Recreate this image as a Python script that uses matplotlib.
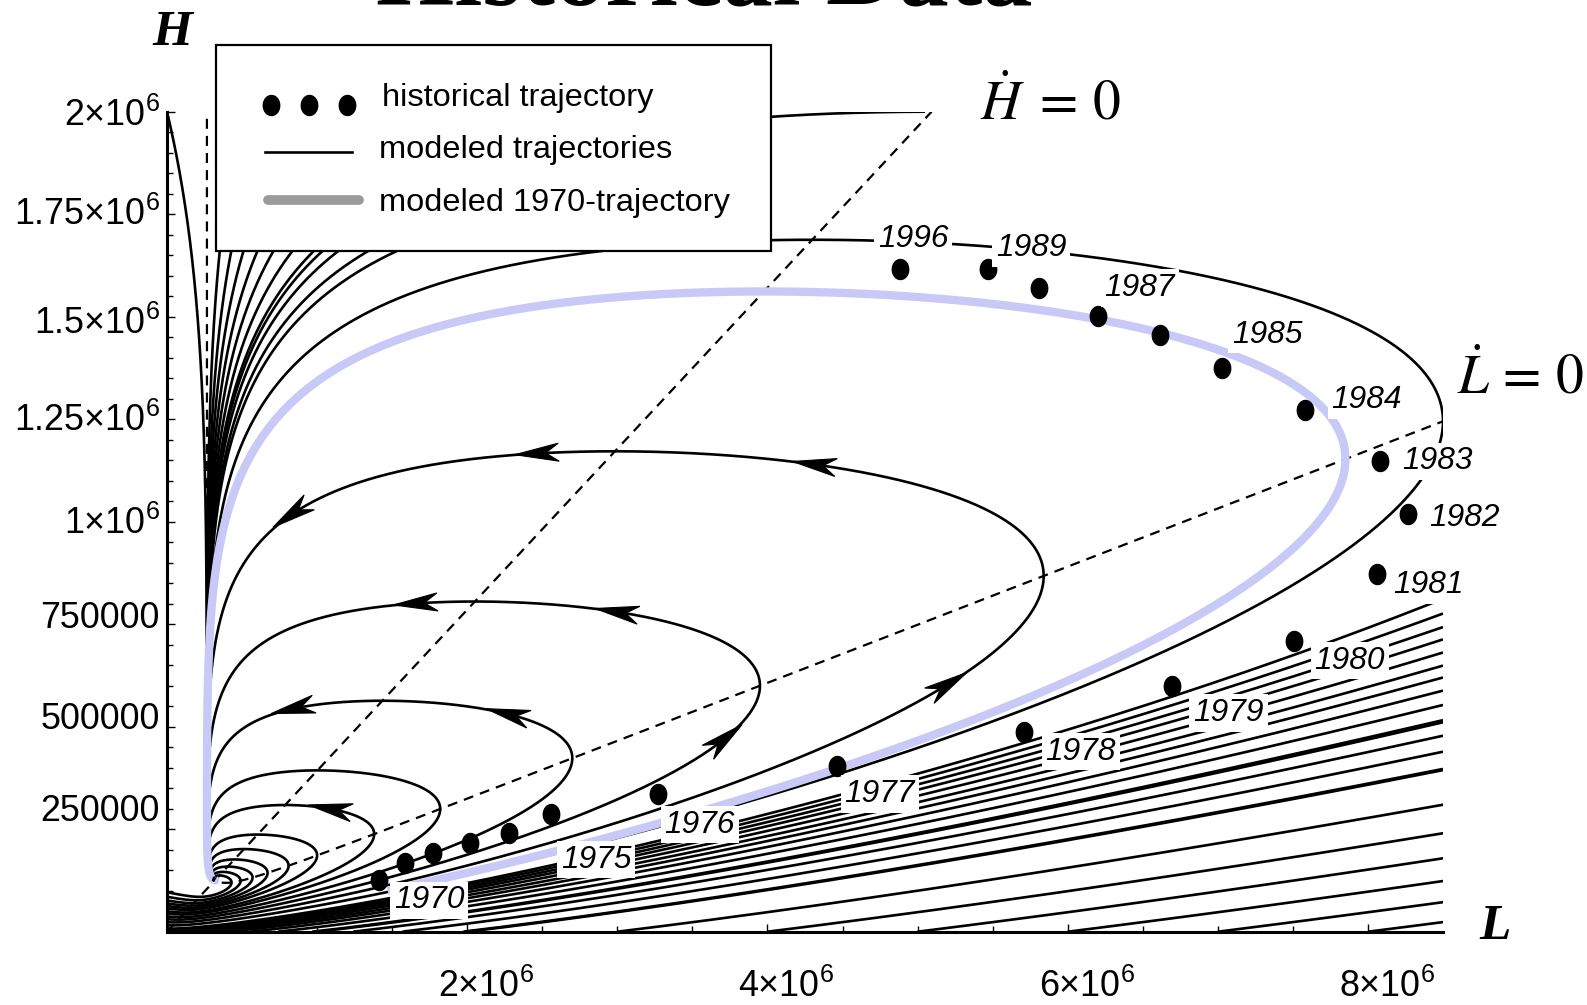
import numpy as np
import matplotlib
matplotlib.use("Agg")
import matplotlib.pyplot as plt
from matplotlib import font_manager as fm
from matplotlib.path import Path
from matplotlib.patches import Polygon, Rectangle
from matplotlib.lines import Line2D
from matplotlib.transforms import IdentityTransform

# ---------------- model parameters (light / heavy users) ----------------
tau = 4.97e4       # constant inflow of new light users
s_init = 0.505     # initiation rate
q_dep = 7.0        # deterrence of heavy use
a_quit = 0.172     # quitting rate of light users
b_esc = 0.015      # escalation light -> heavy
g_quit = 0.0382    # quitting rate of heavy users

L_MAX = 8.5e6
H_MAX = 2.0e6

# ---------------- historical data ----------------
years = [1970, 1971, 1972, 1973, 1974, 1975, 1976, 1977, 1978, 1979, 1980,
         1981, 1982, 1983, 1984, 1985, 1986, 1987, 1988, 1989, 1996]
light_users = [1.415e6, 1.583e6, 1.772e6, 2.021e6, 2.278e6, 2.561e6, 3.268e6,
               4.461e6, 5.708e6, 6.698e6, 7.507e6, 8.059e6, 8.268e6, 8.079e6,
               7.580e6, 7.028e6, 6.617e6, 6.199e6, 5.808e6, 5.471e6, 4.885e6]
heavy_users = [0.125e6, 0.167e6, 0.191e6, 0.216e6, 0.241e6, 0.288e6, 0.337e6,
               0.404e6, 0.488e6, 0.599e6, 0.710e6, 0.873e6, 1.018e6, 1.147e6,
               1.273e6, 1.376e6, 1.455e6, 1.502e6, 1.571e6, 1.616e6, 1.616e6]
labelled_years = [1970, 1975, 1976, 1977, 1978, 1979, 1980, 1981, 1982,
                  1983, 1984, 1985, 1987, 1989, 1996]

# ---------------- trajectory seeds ----------------
axis_start_L = [1e6, 2e6, 3e6, 4e6, 5e6, 6e6, 7e6, 8e6]          # on H = 0, forward
edge_cross_H = [0.812e6, 0.776e6, 0.743e6, 0.713e6, 0.681e6, 0.649e6,
                0.620e6, 0.588e6, 0.553e6, 0.516e6, 0.478e6, 0.439e6,
                0.397e6]                                            # on L = L_MAX, backward
loop_turn_L = [8.5e6, 5.84e6, 3.95e6, 2.70e6, 1.82e6, 1.38e6, 1.0e6,
               0.81e6, 0.67e6, 0.57e6, 0.49e6, 0.43e6]              # on Ldot = 0
fan_cross_L = [0.357e6, 0.439e6, 0.526e6, 0.626e6, 0.741e6, 0.878e6,
               1.034e6, 1.214e6, 1.437e6, 1.653e6]                  # at H = fan_cross_H
fan_cross_H = 1.68e6
top_start_L = [0.0, 5.05e6]                                         # on H = H_MAX, forward

# modelled 1970 run: turning point, first and last state
turn_1970_L = 7.85e6
start_1970_L = 1.47e6
end_1970_H = 0.125e6

# arrow marks along the loops
arrow_L = [2.463e6, 4.318e6, 0.877e6, 5.195e6, 1.653e6, 3.0e6, 3.745e6,
           0.843e6, 2.26e6, 1.08e6]
arrow_H = [1.188e6, 1.151e6, 0.99e6, 0.607e6, 0.812e6, 0.792e6, 0.459e6,
           0.533e6, 0.52e6, 0.286e6]

x_major = [2e6, 4e6, 6e6, 8e6]
y_major = [250000, 500000, 750000, 1000000, 1250000, 1500000, 1750000, 2000000]


# ---------------- fonts ----------------
def has_font(name):
    try:
        fm.findfont(fm.FontProperties(family=name), fallback_to_default=False)
        return True
    except Exception:
        return False


SANS = next((f for f in ["Liberation Sans Narrow", "Liberation Sans", "DejaVu Sans"]
             if has_font(f)), "DejaVu Sans")
SERIF = next((f for f in ["Liberation Serif", "DejaVu Serif"] if has_font(f)),
             "DejaVu Serif")
plt.rcParams["font.family"] = [SANS, "DejaVu Sans"]
plt.rcParams["mathtext.fontset"] = "custom"
plt.rcParams["mathtext.rm"] = SANS
plt.rcParams["mathtext.it"] = SANS + ":italic"

# ---------------- figure ----------------
W, HP, DPI = 1587, 1005, 100
fig = plt.figure(figsize=(W / DPI, HP / DPI), dpi=DPI, facecolor="white")
renderer = fig.canvas.get_renderer()


def fpos(x, y):
    return (x / W, 1 - y / HP)


def fit_size(sample, target_px, **props):
    prop = fm.FontProperties(size=20, **props)
    w, _, _ = renderer.get_text_width_height_descent(sample, prop, ismath=False)
    return 20 * target_px / w


AX_L, AX_R, AX_T, AX_B = 167, 1443, 111.7, 931.7
ax = fig.add_axes([AX_L / W, 1 - AX_B / HP, (AX_R - AX_L) / W, (AX_B - AX_T) / HP])
ax.set_xlim(0, L_MAX)
ax.set_ylim(0, H_MAX)
for side in ("top", "right"):
    ax.spines[side].set_visible(False)
for side in ("left", "bottom"):
    ax.spines[side].set_linewidth(2.2)
ax.set_xticks(x_major)
ax.set_xticks(np.arange(0.5e6, L_MAX, 0.5e6), minor=True)
ax.set_yticks(y_major)
ax.set_yticks(np.arange(50000, H_MAX, 50000), minor=True)
ax.tick_params(which="both", direction="in", labelbottom=False, labelleft=False,
               width=1.0, color="black")
ax.tick_params(which="major", length=6)
ax.tick_params(which="minor", length=4)


# ---------------- dynamics ----------------
def field(L, H):
    Ls = np.where(L > 1.0, L, 1.0)
    dL = tau + s_init * L * np.exp(-q_dep * H / Ls) - (a_quit + b_esc) * L
    dH = b_esc * L - g_quit * H
    return dL, dH


def integrate(L0, H0, t_end, dt=0.02):
    n = int(round(abs(t_end) / dt))
    h = dt if t_end > 0 else -dt
    L = np.array(L0, float)
    H = np.array(H0, float)
    outL = np.full((n + 1, L.size), np.nan)
    outH = np.full((n + 1, L.size), np.nan)
    outL[0], outH[0] = L, H
    alive = np.ones(L.size, bool)
    for i in range(n):
        k1 = field(L, H)
        k2 = field(L + 0.5 * h * k1[0], H + 0.5 * h * k1[1])
        k3 = field(L + 0.5 * h * k2[0], H + 0.5 * h * k2[1])
        k4 = field(L + h * k3[0], H + h * k3[1])
        Ln = L + h / 6 * (k1[0] + 2 * k2[0] + 2 * k3[0] + k4[0])
        Hn = H + h / 6 * (k1[1] + 2 * k2[1] + 2 * k3[1] + k4[1])
        alive &= (Ln > 0) & (Hn >= 0) & (Ln < 2e8) & (Hn < 1e8)
        L = np.where(alive, Ln, L)
        H = np.where(alive, Hn, H)
        outL[i + 1] = np.where(alive, Ln, np.nan)
        outH[i + 1] = np.where(alive, Hn, np.nan)
        if not alive.any():
            break
    return outL, outH


def trace(L0, H0, t_back, t_fwd):
    parts_L, parts_H = [], []
    if t_back > 0:
        bL, bH = integrate(L0, H0, -t_back)
        parts_L.append(bL[::-1])
        parts_H.append(bH[::-1])
    if t_fwd > 0:
        fL, fH = integrate(L0, H0, t_fwd)
        parts_L.append(fL[1:] if parts_L else fL)
        parts_H.append(fH[1:] if parts_H else fH)
    return np.vstack(parts_L), np.vstack(parts_H)


def stop_on_exit(TL, TH):
    """Cut forward runs once they leave the plotting window."""
    TL, TH = TL.copy(), TH.copy()
    out = (TL > L_MAX * 1.002) | (TH > H_MAX * 1.002)
    for j in range(TL.shape[1]):
        if out[:, j].any():
            k = int(np.argmax(out[:, j]))
            TL[k + 1:, j] = np.nan
            TH[k + 1:, j] = np.nan
    return TL, TH


def ldot_zero_H(L):
    L = np.asarray(L, float)
    return -(L / q_dep) * np.log((a_quit + b_esc - tau / L) / s_init)


traj_style = dict(color="black", lw=1.9, solid_capstyle="butt", zorder=2)


def draw(TL, TH):
    for j in range(TL.shape[1]):
        ax.plot(TL[:, j], TH[:, j], **traj_style)


draw(*stop_on_exit(*trace(axis_start_L, [0.0] * len(axis_start_L), 0, 120)))
draw(*trace([L_MAX] * len(edge_cross_H), edge_cross_H, 120, 0))
draw(*trace(top_start_L, [H_MAX] * len(top_start_L), 0, 300))
draw(*trace(fan_cross_L, [fan_cross_H] * len(fan_cross_L), 0, 300))
LL, LH = trace(loop_turn_L, ldot_zero_H(loop_turn_L), 150, 300)
draw(LL, LH)

# isoclines
iso_style = dict(color="black", lw=1.6, dashes=(4.5, 3.2), zorder=2.5)
ax.plot([0, H_MAX * g_quit / b_esc], [0, H_MAX], **iso_style)
L_vert = tau / (a_quit + b_esc)
u = 10.0 ** np.linspace(-70, np.log10(L_MAX / L_vert - 1), 3000)
L_iso = L_vert * (1 + u)
H_iso = -(L_iso / q_dep) * (np.log((a_quit + b_esc) / s_init) + np.log(u) - np.log1p(u))
keep = H_iso < 1.2 * H_MAX
ax.plot(L_iso[keep], H_iso[keep], **iso_style)

# modelled 1970 trajectory, traced through its turning point
t_H = float(ldot_zero_H(turn_1970_L))
bL, bH = integrate([turn_1970_L], [t_H], -60.0, dt=0.01)
fL, fH = integrate([turn_1970_L], [t_H], 200.0, dt=0.01)
bL, bH, fL, fH = bL[:, 0], bH[:, 0], fL[:, 0], fH[:, 0]
hit0 = bL <= start_1970_L
i0 = int(np.argmax(hit0)) if hit0.any() else int(np.sum(~np.isnan(bL))) - 1
hit1 = (fL < 0.35e6) & (fH <= end_1970_H)
i1 = int(np.argmax(hit1)) if hit1.any() else int(np.sum(~np.isnan(fL))) - 1
BL = np.concatenate([bL[:i0 + 1][::-1], fL[1:i1 + 1]])
BH = np.concatenate([bH[:i0 + 1][::-1], fH[1:i1 + 1]])
ax.plot(BL, BH, color="#c9c9f7", lw=6.0, solid_capstyle="butt",
        solid_joinstyle="round", zorder=3)

# arrowheads on loops
disp = []
for j in range(LL.shape[1]):
    ok = ~np.isnan(LL[:, j])
    pts = np.column_stack([LL[ok, j], LH[ok, j]])
    disp.append((pts, ax.transData.transform(pts)))
for La, Ha in zip(arrow_L, arrow_H):
    target = ax.transData.transform((La, Ha))
    best = None
    for pts, dp in disp:
        d = np.hypot(dp[:, 0] - target[0], dp[:, 1] - target[1])
        k = int(np.argmin(d))
        if best is None or d[k] < best[0]:
            best = (d[k], pts[k], dp[k])
    _, pdata, pdisp = best
    dL, dH = field(np.array(pdata[0]), np.array(pdata[1]))
    ahead = ax.transData.transform((pdata[0] + dL * 0.01, pdata[1] + dH * 0.01))
    v = ahead - pdisp
    v = v / np.hypot(*v)
    nrm = np.array([-v[1], v[0]])
    length, half = 44.0, 9.0
    tip = pdisp + 0.5 * length * v
    poly = Polygon([tip, tip - length * v + half * nrm, tip - 0.7 * length * v,
                    tip - length * v - half * nrm], closed=True,
                   transform=IdentityTransform(), facecolor="black",
                   edgecolor="black", lw=0.8, zorder=4)
    fig.add_artist(poly)

# historical points
th = np.linspace(0, 2 * np.pi, 64)
dot = Path(np.column_stack([0.82 * np.cos(th), np.sin(th)]), closed=True)
ax.plot(light_users, heavy_users, linestyle="none", marker=dot, markersize=14.4,
        color="black", zorder=5)

year_fs = fit_size("1970", 70, family=SANS, style="italic")
label_offset_px = {1970: (50, 20), 1975: (45, 46), 1976: (42, 31), 1977: (43, 28),
                   1978: (57, 20), 1979: (56, 27), 1980: (56, 20), 1981: (52, 11),
                   1982: (56, 4), 1983: (58, 0), 1984: (62, -10), 1985: (45, -33),
                   1987: (42, -28), 1989: (43, -21), 1996: (13, -30)}
for yr in labelled_years:
    i = years.index(yr)
    dx, dy = label_offset_px[yr]
    ax.annotate(str(yr), (light_users[i], heavy_users[i]), xytext=(dx, -dy),
                textcoords="offset pixels", ha="center", va="center",
                fontsize=year_fs, fontstyle="italic", family=SANS, zorder=6,
                bbox=dict(boxstyle="square,pad=0.12", fc="white", ec="none"),
                annotation_clip=False)

# ---------------- tick labels ----------------
tick_fs = fit_size("750000", 120, family=SANS)


def tick_text(val):
    if val >= 1e6:
        return r"$\mathrm{%s×10^{6}}$" % ("%g" % (val / 1e6))
    return str(int(val))


y_label_nudge = [-22, -12, -10, -2, -2, 3, -3, 0]
for val, nud in zip(y_major, y_label_nudge):
    ypix = AX_B - (val / H_MAX) * (AX_B - AX_T) + nud + 14
    fig.text(*fpos(160, ypix), tick_text(val), ha="right", va="baseline",
             fontsize=tick_fs, math_fontfamily="custom")
for val in x_major:
    xpix = AX_L + (val / L_MAX) * (AX_R - AX_L) + 19
    fig.text(*fpos(xpix, 997), tick_text(val), ha="center", va="baseline",
             fontsize=tick_fs, math_fontfamily="custom")

# axis names and isocline names
fig.text(*fpos(172, 33), "H", ha="center", va="center", family=SERIF,
         fontweight="bold", fontstyle="italic", fontsize=37)
fig.text(*fpos(1495, 927), "L", ha="center", va="center", family=SERIF,
         fontweight="bold", fontstyle="italic", fontsize=37)
fig.text(*fpos(980, 119), r"$\dot{H}\;=\,0$", ha="left", va="baseline",
         fontsize=40, math_fontfamily="stix")
fig.text(*fpos(1457, 393), r"$\dot{L}\,=\,0$", ha="left", va="baseline",
         fontsize=40, math_fontfamily="stix")

# title, mostly above the top edge
title_fs = fit_size("Historical Data", 656, family=SERIF, weight="bold")
fig.text(*fpos(704, 5), "Historical Data", ha="center", va="baseline",
         family=SERIF, fontweight="bold", fontsize=title_fs)

# ---------------- legend ----------------
fig.add_artist(Rectangle(fpos(215.6, 251), (771 - 215.6) / W, (251 - 45.5) / HP,
                         transform=fig.transFigure, facecolor="white",
                         edgecolor="black", lw=1.6, zorder=7))
leg_fs = fit_size("historical trajectory", 270, family=SANS)
xs = [271, 309, 347]
fig.add_artist(Line2D([x / W for x in xs], [fpos(0, 105)[1]] * 3,
                      transform=fig.transFigure, linestyle="none", marker=dot,
                      markersize=14.4, color="black", zorder=8))
fig.add_artist(Line2D([265 / W, 352 / W], [fpos(0, 152)[1]] * 2,
                      transform=fig.transFigure, color="black", lw=1.9, zorder=8))
fig.add_artist(Line2D([268 / W, 359 / W], [fpos(0, 200)[1]] * 2,
                      transform=fig.transFigure, color="#9a9a9a", lw=7,
                      solid_capstyle="round", zorder=8))
for txt, xx, yy in [("historical trajectory", 382, 98),
                    ("modeled trajectories", 379, 150),
                    ("modeled 1970-trajectory", 379, 203)]:
    fig.text(*fpos(xx, yy), txt, ha="left", va="center", fontsize=leg_fs,
             zorder=9)

fig.savefig("out.png", dpi=DPI, facecolor="white")
